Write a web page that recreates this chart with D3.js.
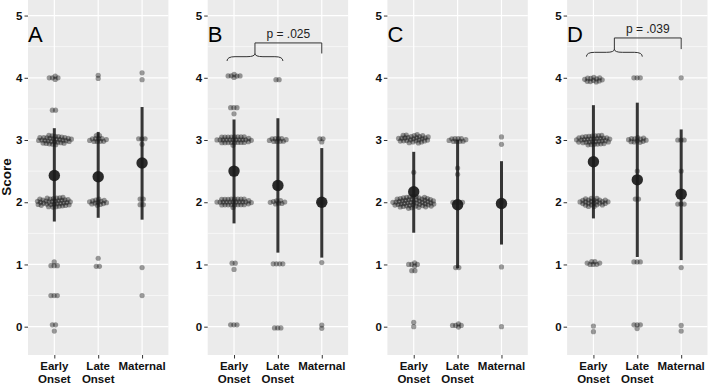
<!DOCTYPE html>
<html lang="en">
<head>
<meta charset="UTF-8">
<title>Scores by onset group</title>
<script src="https://d3js.org/d3.v7.min.js"></script>
<style>
    body { margin: 0; background: #fff; }
    svg text { font-family: "Liberation Sans", Arial, sans-serif; }
    .tick text { font-weight: bold; font-size: 11.5px; fill: #111; }
    .tick line { stroke: #333; }
    .domain { display: none; }
</style>
</head>
<body>
<div id="chart"></div>
<script>
// categories and tick labels
const categories = ["Early Onset", "Late Onset", "Maternal"];
const catLines = [["Early", "Onset"], ["Late", "Onset"], ["Maternal"]];
const panelLabels = ["A", "B", "C", "D"];
const yTicks = [0, 1, 2, 3, 4, 5];

// group means and error bar ends, one row per panel
const means = [
    [2.43, 2.41, 2.63],
    [2.50, 2.27, 2.00],
    [2.17, 1.96, 1.98],
    [2.65, 2.36, 2.13]
];
const lows = [
    [1.69, 1.75, 1.72],
    [1.66, 1.19, 1.11],
    [1.51, 0.94, 1.32],
    [1.74, 1.12, 1.07]
];
const highs = [
    [3.19, 3.13, 3.53],
    [3.33, 3.35, 2.87],
    [2.81, 3.00, 2.66],
    [3.56, 3.60, 3.17]
];

// individual scores as [score, count] per group
const scoresA = [
    [[4, 5], [3.48, 2], [3, 32], [2, 36], [1.04, 1], [0.98, 3], [0.5, 3], [0.03, 2], [-0.07, 1]],
    [[4.04, 1], [3.99, 1], [3.07, 2], [3, 10], [2, 13], [1.1, 1], [0.97, 2]],
    [[4.08, 1], [3.97, 1], [3.02, 3], [2.93, 1], [2.05, 2], [1.96, 2], [0.95, 1], [0.5, 1]]
];
const scoresB = [
    [[4.03, 6], [3.52, 3], [3.42, 1], [3, 30], [2, 30], [1.02, 2], [0.92, 1], [0.03, 3]],
    [[3.97, 2], [3, 10], [2, 8], [1.01, 4], [-0.02, 3]],
    [[3.02, 2], [2.97, 1], [2, 2], [1.03, 1], [0.02, 1], [-0.02, 1]]
];
const scoresC = [
    [[3.02, 28], [2.48, 1], [2, 50], [1, 5], [0.9, 2], [0.07, 1], [0, 1]],
    [[3, 10], [2.55, 1], [2.45, 1], [2, 4], [0.95, 2], [0.02, 5]],
    [[3.05, 1], [2.93, 1], [2, 1], [0.96, 1], [0, 1]]
];
const scoresD = [
    [[3.97, 12], [3, 35], [2, 25], [1.02, 7], [0.01, 1], [-0.08, 1]],
    [[4, 3], [3, 12], [2.5, 1], [2.05, 2], [1.04, 3], [0.03, 3], [-0.03, 1]],
    [[4, 1], [3, 3], [2.5, 1], [1.97, 3], [0.95, 1], [0.02, 1], [-0.07, 1]]
];
const allScores = [scoresA, scoresB, scoresC, scoresD];

// comparison brackets: panel, p label, brace height, bracket height
const comparisons = [
    { panel: 1, label: "p = .025", brace: 4.27, top: 4.56 },
    { panel: 3, label: "p = .039", brace: 4.34, top: 4.64 }
];

const width = 709, height = 383;
const firstLeft = 28, step = 179.7, panelW = 140.4;
const plotTop = 0, plotBottom = 355;
const golden = Math.PI * (3 - Math.sqrt(5));

const svg = d3.select("#chart").append("svg")
    .attr("width", width)
    .attr("height", height);

const y = d3.scaleLinear().domain([-0.455, 5.25]).range([plotBottom, plotTop]);

panelLabels.forEach((lab, i) => {
    const left = firstLeft + i * step;
    const x = d3.scalePoint().domain(categories).range([left, left + panelW]).padding(0.6);
    const g = svg.append("g");

    // background + grid
    g.append("rect")
        .attr("x", left).attr("y", plotTop)
        .attr("width", panelW).attr("height", plotBottom - plotTop)
        .attr("fill", "#ebebeb");
    const minor = d3.range(-0.5, 5.5, 1);
    g.selectAll(".minor").data(minor).enter().append("line")
        .attr("x1", left).attr("x2", left + panelW)
        .attr("y1", d => y(d)).attr("y2", d => y(d))
        .attr("stroke", "#fff").attr("stroke-width", 0.6);
    g.selectAll(".major").data(yTicks).enter().append("line")
        .attr("x1", left).attr("x2", left + panelW)
        .attr("y1", d => y(d)).attr("y2", d => y(d))
        .attr("stroke", "#fff").attr("stroke-width", 1.2);
    g.selectAll(".vmajor").data(categories).enter().append("line")
        .attr("x1", d => x(d)).attr("x2", d => x(d))
        .attr("y1", plotTop).attr("y2", plotBottom)
        .attr("stroke", "#fff").attr("stroke-width", 1.2);

    // axes
    g.append("g")
        .attr("transform", `translate(${left},0)`)
        .call(d3.axisLeft(y).tickValues(yTicks).tickFormat(d3.format("d")).tickSize(3.5).tickPadding(2));
    g.append("g")
        .attr("transform", `translate(0,${plotBottom})`)
        .call(d3.axisBottom(x).tickSize(3.5).tickFormat(""));
    categories.forEach((c, k) => {
        const t = g.append("text")
            .attr("x", x(c)).attr("y", 369.5)
            .attr("text-anchor", "middle")
            .attr("font-weight", "bold").attr("font-size", "11.5px")
            .attr("fill", "#111");
        catLines[k].forEach((ln, j) => {
            t.append("tspan").attr("x", x(c)).attr("dy", j ? 13 : 0).text(ln);
        });
    });

    // jittered points: start each stack as a flat spiral, then relax with forces
    const nodes = [];
    allScores[i].forEach((grp, k) => {
        grp.forEach(([v, n]) => {
            for (let m = 0; m < n; m++) {
                const r = 2.2 * Math.sqrt(m), a = m * golden;
                nodes.push({
                    cat: categories[k], v: v,
                    x: x(categories[k]) + r * Math.cos(a),
                    y: y(v) + 0.3 * r * Math.sin(a)
                });
            }
        });
    });
    const sim = d3.forceSimulation(nodes)
        .force("x", d3.forceX(d => x(d.cat)).strength(0.012))
        .force("y", d3.forceY(d => y(d.v)).strength(0.2))
        .force("collide", d3.forceCollide(1.6))
        .stop();
    for (let t = 0; t < 300; t++) sim.tick();

    g.selectAll(".pt").data(nodes).enter().append("circle")
        .attr("cx", d => d.x).attr("cy", d => d.y)
        .attr("r", 2.6)
        .attr("fill", "#000").attr("fill-opacity", 0.38);

    // error bars + means
    g.selectAll(".err").data(categories).enter().append("line")
        .attr("x1", d => x(d)).attr("x2", d => x(d))
        .attr("y1", (d, k) => y(lows[i][k])).attr("y2", (d, k) => y(highs[i][k]))
        .attr("stroke", "#1a1a1a").attr("stroke-opacity", 0.88).attr("stroke-width", 3);
    g.selectAll(".mean").data(categories).enter().append("circle")
        .attr("cx", d => x(d)).attr("cy", (d, k) => y(means[i][k]))
        .attr("r", 5.7)
        .attr("fill", "#1a1a1a").attr("fill-opacity", 0.92);

    // panel letter
    g.append("text")
        .attr("x", left).attr("y", 42)
        .attr("font-size", "22px").attr("fill", "#000")
        .text(lab);

    // comparison bracket
    comparisons.filter(c => c.panel === i).forEach(c => {
        const x1 = x(categories[0]) - 7, x2 = x(categories[1]) + 5;
        const xm = (x1 + x2) / 2;
        const ye = y(c.brace), yb = ye - 4.3, yt = ye - 7.5;
        const q = 8;
        const brace = `M${x1},${ye}Q${x1},${yb} ${x1 + q},${yb}L${xm - q},${yb}` +
            `Q${xm},${yb} ${xm},${yt}Q${xm},${yb} ${xm + q},${yb}` +
            `L${x2 - q},${yb}Q${x2},${yb} ${x2},${ye}`;
        g.append("path").attr("d", brace)
            .attr("fill", "none").attr("stroke", "#333").attr("stroke-width", 1);
        const xr = x(categories[2]);
        const ytop = y(c.top);
        g.append("path")
            .attr("d", `M${xm},${yt}V${ytop}H${xr}V${yt}`)
            .attr("fill", "none").attr("stroke", "#333").attr("stroke-width", 1);
        g.append("text")
            .attr("x", (xm + xr) / 2).attr("y", ytop - 5)
            .attr("text-anchor", "middle")
            .attr("font-size", "12px").attr("fill", "#222")
            .text(c.label);
    });
});

// y axis title
svg.append("text")
    .attr("transform", `translate(11,177) rotate(-90)`)
    .attr("text-anchor", "middle")
    .attr("font-weight", "bold").attr("font-size", "13.5px")
    .attr("fill", "#111")
    .text("Score");
</script>
</body>
</html>
